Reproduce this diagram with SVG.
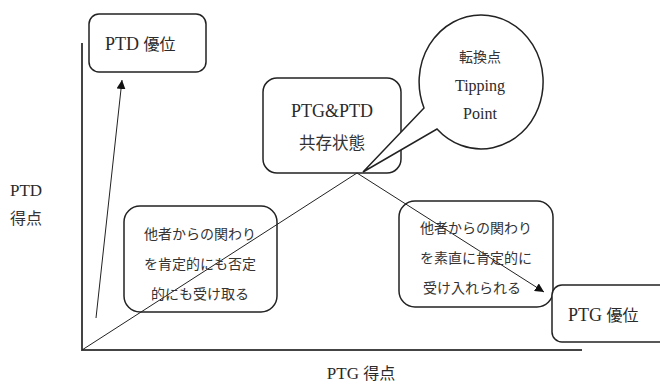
<svg xmlns="http://www.w3.org/2000/svg" width="660" height="384" viewBox="0 0 660 384">
<style>
.box{fill:#fff;stroke:#222;stroke-width:1.5}
.open{fill:none;stroke:#222;stroke-width:1.5}
.serif{font-family:"Liberation Serif","Noto Sans CJK JP",serif;fill:#2a2a2a}
.sans{font-family:"Noto Sans CJK JP","Noto Sans",sans-serif;fill:#333}
.cjk{font-family:"Noto Sans CJK JP",sans-serif}
.axis{stroke:#444;stroke-width:2;fill:none}
.ln{stroke:#222;stroke-width:1;fill:none}
</style>
<defs>
<marker id="ah" viewBox="0 0 10 10" refX="10" refY="5" markerWidth="9" markerHeight="9" orient="auto" markerUnits="userSpaceOnUse">
<path d="M0,0 L10,5 L0,10 z" fill="#111"/>
</marker>
</defs>
<rect width="660" height="384" fill="#fff"/>
<g id="axes">
<line class="axis" x1="82" y1="43" x2="82" y2="350"/>
<line class="axis" x1="81" y1="350" x2="582" y2="350"/>
</g>
<g id="connectors">
<line class="ln" x1="96" y1="318" x2="122" y2="80" marker-end="url(#ah)"/>
<line class="ln" x1="82" y1="350" x2="357" y2="173"/>
<line class="ln" x1="357" y1="173" x2="544" y2="292" marker-end="url(#ah)"/>
</g>
<g id="ptd-yuui">
<rect class="box" x="89" y="14" width="117" height="58" rx="10"/>
<text class="serif" x="105" y="50" font-size="18">PTD <tspan class="cjk" font-size="16">優位</tspan></text>
</g>
<g id="coexist">
<rect class="open" x="263" y="78" width="138" height="95" rx="14"/>
<text class="serif" x="332" y="117" font-size="18" text-anchor="middle">PTG&amp;PTD</text>
<text class="sans" x="332" y="149" font-size="16.5" text-anchor="middle">共存状態</text>
</g>
<g id="tipping">
<path class="box" d="M424,108 L363,172 L437,129 A62,67 0 1 0 424,108 Z"/>
<text class="sans" x="480" y="62" font-size="14" text-anchor="middle">転換点</text>
<text class="serif" x="480" y="91" font-size="16" text-anchor="middle">Tipping</text>
<text class="serif" x="480" y="119" font-size="16" text-anchor="middle">Point</text>
</g>
<g id="left-box">
<rect class="open" x="124" y="206" width="153" height="106" rx="16"/>
<text class="sans" x="200" y="239" font-size="14" text-anchor="middle">他者からの関わり</text>
<text class="sans" x="200" y="269" font-size="14" text-anchor="middle">を肯定的にも否定</text>
<text class="sans" x="200" y="299" font-size="14" text-anchor="middle">的にも受け取る</text>
</g>
<g id="right-box">
<rect class="open" x="399" y="201" width="154" height="106" rx="16"/>
<text class="sans" x="476" y="233" font-size="14" text-anchor="middle">他者からの関わり</text>
<text class="sans" x="476" y="263" font-size="14" text-anchor="middle">を素直に肯定的に</text>
<text class="sans" x="472" y="293" font-size="14" text-anchor="middle">受け入れられる</text>
</g>
<g id="ptg-yuui">
<rect class="box" x="552" y="285" width="130" height="57" rx="10"/>
<text class="serif" x="568" y="321" font-size="18">PTG <tspan class="cjk" font-size="16">優位</tspan></text>
</g>
<g id="labels">
<text class="serif" x="10" y="196" font-size="17">PTD</text>
<text class="sans" x="10" y="224" font-size="16">得点</text>
<text class="serif" x="361" y="379" font-size="17" text-anchor="middle">PTG <tspan class="cjk" font-size="16">得点</tspan></text>
</g>
</svg>
